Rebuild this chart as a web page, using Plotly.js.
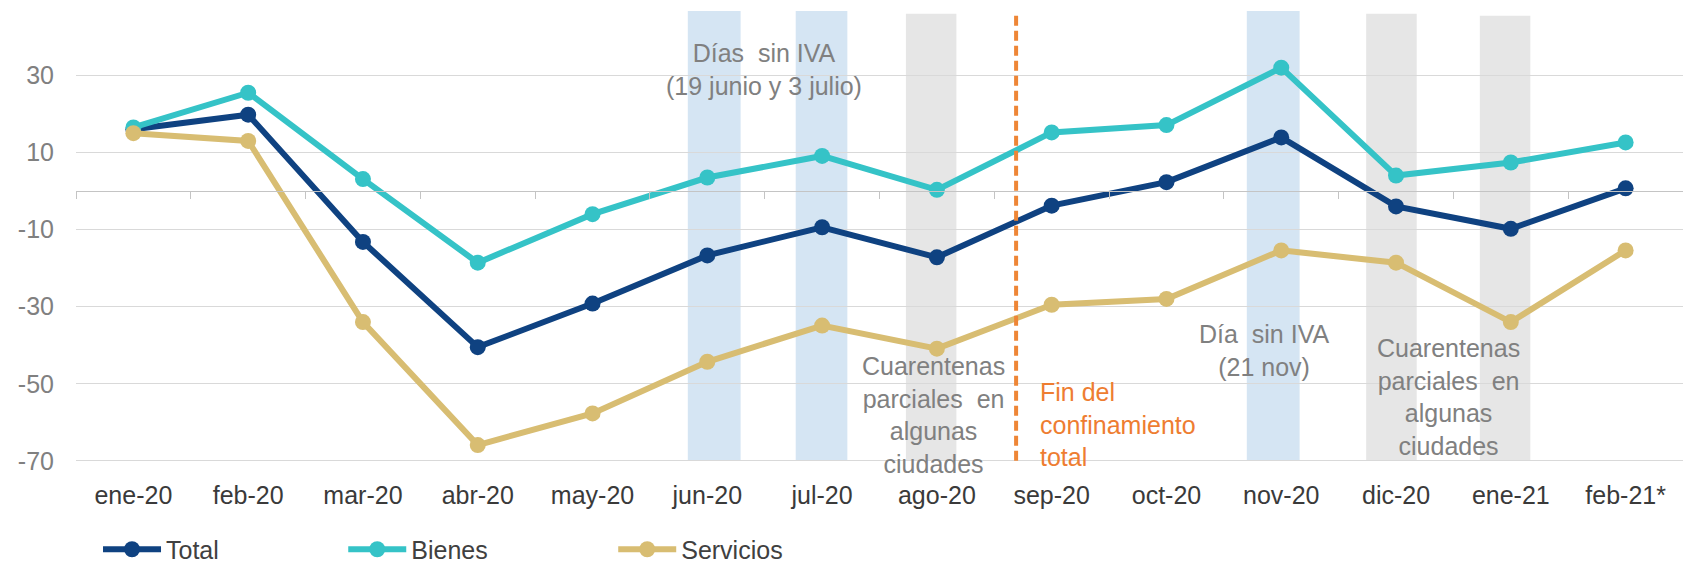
<!DOCTYPE html>
<html>
<head>
<meta charset="utf-8">
<script src="https://cdn.plot.ly/plotly-3.0.1.min.js"></script>
<style>html,body{margin:0;padding:0;background:#fff;}#chart{width:1683px;height:562px;}</style>
</head>
<body>
<div id="chart"></div>
<script>
const categories = ['ene-20','feb-20','mar-20','abr-20','may-20','jun-20','jul-20','ago-20','sep-20','oct-20','nov-20','dic-20','ene-21','feb-21*'];
const total = [16, 19.8, -13.2, -40.5, -29.2, -16.7, -9.4, -17.2, -3.8, 2.3, 13.9, -4, -9.8, 0.7];
const bienes = [16.5, 25.5, 3.1, -18.6, -6, 3.5, 9.1, 0.3, 15.2, 17.1, 32, 4, 7.4, 12.6];
const servicios = [15, 13, -34, -65.9, -57.7, -44.3, -34.9, -40.9, -29.5, -28, -15.4, -18.6, -34, -15.4];
const yTicks = [-70, -50, -30, -10, 10, 30];
const seriesNames = ['Total', 'Bienes', 'Servicios'];

const yMin = -70.3, yMax = 46.7;
const zeroPos = (0 - yMin) / (yMax - yMin);
const colors = ['#0f4281', '#35c3c7', '#d8bd72'];
const values = [total, bienes, servicios];
const legendX = [0.0137, 0.1663, 0.3343];
const legendIds = ['legend', 'legend2', 'legend3'];

const traces = values.map((v, i) => ({
  type: 'scatter', mode: 'lines+markers', name: seriesNames[i],
  x: categories, y: v,
  line: {color: colors[i], width: 6},
  marker: {color: colors[i], size: 16},
  legend: legendIds[i],
  hoverinfo: 'x+y+name'
}));
// invisible helper trace so the zero-line axis (x2) is rendered
traces.push({type: 'scatter', mode: 'lines', x: categories.map((c, i) => i), y: total,
  xaxis: 'x2', line: {width: 0}, opacity: 0, showlegend: false, hoverinfo: 'skip'});

const gray = '#808080';
const annFont = {family: 'Liberation Sans, Arial, sans-serif', size: 25, color: gray};

function band(x0, x1, color, top) {
  return {type: 'rect', xref: 'x', yref: 'y', x0: x0, x1: x1, y0: -70, y1: top,
    fillcolor: color, line: {width: 0}, layer: 'below'};
}
const blue = '#d5e5f3', lgray = '#e6e6e6';

const legendCommon = (x) => ({
  orientation: 'h', x: x, xanchor: 'left', y: -0.194, yanchor: 'middle',
  font: {family: 'Liberation Sans, Arial, sans-serif', size: 25, color: '#404040'},
  bgcolor: 'rgba(0,0,0,0)', itemwidth: 58
});

const layout = {
  width: 1683, height: 562,
  margin: {l: 76, r: 0, t: 11, b: 100, autoexpand: false},
  paper_bgcolor: '#fff', plot_bgcolor: '#fff',
  showlegend: true,
  legend: legendCommon(legendX[0]),
  legend2: legendCommon(legendX[1]),
  legend3: legendCommon(legendX[2]),
  xaxis: {
    type: 'category', range: [-0.5, 13.5], showgrid: false, showline: false, zeroline: false,
    ticks: '', tickfont: {family: 'Liberation Sans, Arial, sans-serif', size: 25, color: '#3a3a3a'},
    ticklabelstandoff: 16, fixedrange: true, automargin: false
  },
  xaxis2: {
    overlaying: 'x', anchor: 'free', position: zeroPos, side: 'bottom',
    range: [-0.5, 13.5], tickmode: 'linear', tick0: -0.5, dtick: 1,
    ticks: 'outside', ticklen: 7, tickcolor: '#c4c4c4', tickwidth: 1,
    showline: true, linecolor: '#c4c4c4', linewidth: 1,
    showticklabels: false, showgrid: false, zeroline: false, fixedrange: true, automargin: false
  },
  yaxis: {
    range: [yMin, yMax], tickvals: yTicks, ticktext: yTicks.map(String),
    showgrid: true, gridcolor: '#d9d9d9', gridwidth: 1, zeroline: false, showline: false,
    ticks: '', tickfont: {family: 'Liberation Sans, Arial, sans-serif', size: 25, color: gray},
    ticklabelstandoff: 21, fixedrange: true, automargin: false
  },
  shapes: [
    band(4.83, 5.29, blue, yMax),
    band(5.77, 6.22, blue, yMax),
    band(6.73, 7.17, lgray, 46),
    band(9.70, 10.16, blue, yMax),
    band(10.74, 11.18, lgray, 46),
    band(11.73, 12.17, lgray, 45.5),
    {type: 'line', xref: 'x', yref: 'y', x0: 7.69, x1: 7.69, y0: -70, y1: 46,
      line: {color: '#ee8636', width: 4, dash: '10px,5px'}, layer: 'above'}
  ],
  annotations: [
    {xref: 'x', yref: 'y', x: 5.49, y: 31.6, text: 'Días  sin IVA<br>(19 junio y 3 julio)',
      showarrow: false, font: annFont, align: 'center'},
    {xref: 'x', yref: 'y', x: 6.97, y: -58.2, text: 'Cuarentenas<br>parciales  en<br>algunas<br>ciudades',
      showarrow: false, font: annFont, align: 'center'},
    {xref: 'x', yref: 'y', x: 7.88, xanchor: 'left', y: -60.5, text: 'Fin del<br>confinamiento<br>total',
      showarrow: false, font: Object.assign({}, annFont, {color: '#ee7d31'}), align: 'left'},
    {xref: 'x', yref: 'y', x: 9.85, y: -41.5, text: 'Día  sin IVA<br>(21 nov)',
      showarrow: false, font: annFont, align: 'center'},
    {xref: 'x', yref: 'y', x: 11.46, y: -53.5, text: 'Cuarentenas<br>parciales  en<br>algunas<br>ciudades',
      showarrow: false, font: annFont, align: 'center'}
  ]
};

Plotly.newPlot('chart', traces, layout, {displayModeBar: false, staticPlot: true});
</script>
</body>
</html>
